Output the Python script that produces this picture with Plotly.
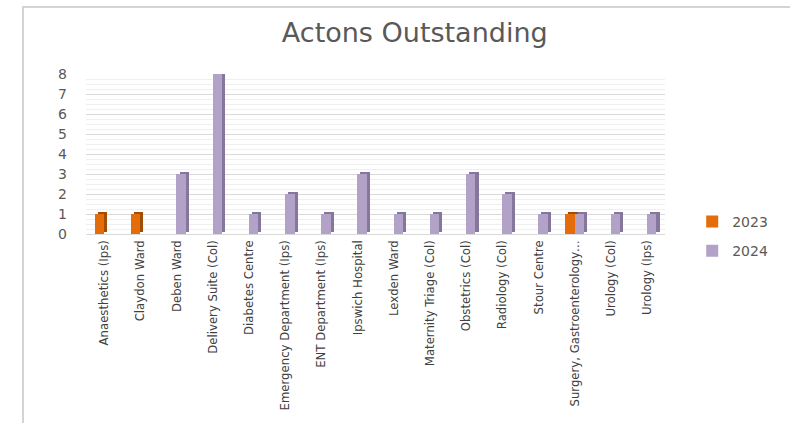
import plotly.graph_objects as go

# Outstanding actions per ward / department, by year
categories = [
    "Anaesthetics (Ips)", "Claydon Ward", "Deben Ward", "Delivery Suite (Col)",
    "Diabetes Centre", "Emergency Department (Ips)", "ENT Department (Ips)",
    "Ipswich Hospital", "Lexden Ward", "Maternity Triage (Col)", "Obstetrics (Col)",
    "Radiology (Col)", "Stour Centre", "Surgery, Gastroenterology…",
    "Urology (Col)", "Urology (Ips)",
]
actions_2023 = [1, 1, 0, 0, 0, 0, 0, 0, 0, 0, 0, 0, 0, 1, 0, 0]
actions_2024 = [0, 0, 3, 8, 1, 2, 1, 3, 1, 1, 3, 2, 1, 1, 1, 1]
series_names = ["2023", "2024"]
y_ticks = [0, 1, 2, 3, 4, 5, 6, 7, 8]

front_colors = ["#E46C0A", "#B3A2C7"]
side_colors = ["#A24C06", "#84769C"]

BAR_W = 0.263      # front face width (category units)
DEPTH_X = 0.085    # extrusion to the right
DEPTH_Y = 0.1      # extrusion upwards

fig = go.Figure()
series = [actions_2023, actions_2024]
offsets = [-BAR_W, 0.0]

# extruded sides first so the front faces sit on top
for vals, off, col in zip(series, offsets, side_colors):
    fig.add_trace(go.Bar(
        x=categories, y=vals, base=DEPTH_Y, offset=off + DEPTH_X, width=BAR_W,
        marker=dict(color=col, line=dict(width=0)),
        showlegend=False, hoverinfo="skip",
    ))

for vals, off, col, name in zip(series, offsets, front_colors, series_names):
    fig.add_trace(go.Bar(
        x=categories, y=vals, offset=off, width=BAR_W, name=name,
        marker=dict(color=col, line=dict(width=0)),
        legendgroup=name,
    ))

# light outer frame of the chart
fig.add_shape(type="rect", xref="paper", yref="paper",
              x0=-0.1088, x1=1.25, y0=-1.3, y1=1.419,
              line=dict(color="#d4d4d4", width=2), fillcolor="rgba(0,0,0,0)", layer="below")

fig.update_layout(
    width=790, height=423,
    margin=dict(l=86, r=125, t=74, b=189, autoexpand=False),
    paper_bgcolor="white", plot_bgcolor="white",
    barmode="overlay",
    title=dict(text="Actons Outstanding", x=0.525, xanchor="center", y=0.922, yanchor="middle",
               font=dict(family="DejaVu Sans", size=27, color="#595959")),
    xaxis=dict(
        type="category", range=[-0.5, 15.5], showgrid=False,
        showline=True, linecolor="#d9d9d9", linewidth=1,
        tickangle=-90, ticks="",
        tickfont=dict(family="DejaVu Sans Condensed", size=13, color="#404040"),
    ),
    yaxis=dict(
        range=[0, 8], tickvals=y_ticks, showgrid=True, gridcolor="#d9d9d9", gridwidth=1,
        minor=dict(dtick=0.25, showgrid=True, gridcolor="#efefef", gridwidth=1),
        zeroline=False, showline=False, ticks="", ticklabelstandoff=18,
        tickfont=dict(family="DejaVu Sans", size=14, color="#595959"),
    ),
    legend=dict(
        x=1.047, xanchor="left", y=0.175, yanchor="top",
        font=dict(family="DejaVu Sans", size=14, color="#595959"),
        tracegroupgap=8, bgcolor="rgba(0,0,0,0)",
    ),
    bargap=0,
)

fig.write_html("out.html")
